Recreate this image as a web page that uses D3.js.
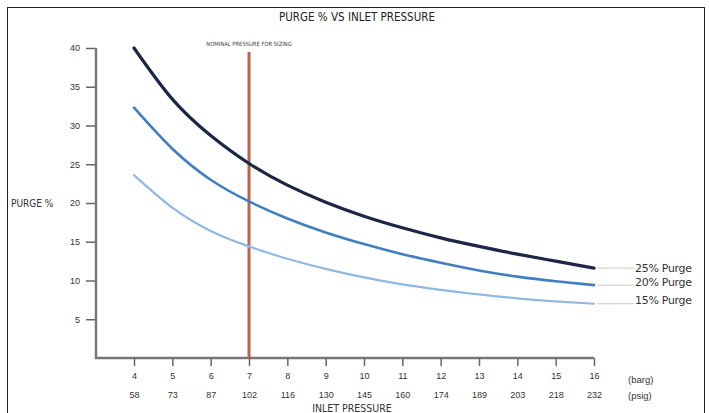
<!DOCTYPE html>
<html><head><meta charset="utf-8">
<script src="https://cdn.jsdelivr.net/npm/d3@7"></script>
<style>
html,body{margin:0;padding:0;background:#fff;}
svg{display:block;}
text{font-family:"Liberation Sans Narrow","DejaVu Sans Condensed","Liberation Sans",sans-serif;fill:#333;}
</style></head>
<body>
<svg id="chart" width="709" height="413"></svg>
<script>
const barg = [4,5,6,7,8,9,10,11,12,13,14,15,16];
const psig = ["58","73","87","102","116","130","145","160","174","189","203","218","232"];
const purge25 = [40,33.4,28.7,25.1,22.3,20.1,18.3,16.8,15.5,14.4,13.4,12.5,11.6];
const purge20 = [32.3,27.0,23.0,20.2,18.0,16.2,14.7,13.4,12.3,11.3,10.5,9.9,9.4];
const purge15 = [23.6,19.4,16.4,14.4,12.8,11.5,10.4,9.5,8.8,8.2,7.7,7.3,7.0];
const yTicks = [5,10,15,20,25,30,35,40];
const seriesNames = ["25% Purge","20% Purge","15% Purge"];
const seriesColors = ["#1c2747","#3f7fc2","#90b9e2"];
const nominalPressure = 7;

const tickFont = "'Liberation Sans','DejaVu Sans',sans-serif";
const svg = d3.select("#chart");
// outer frame
svg.append("rect").attr("x",7.5).attr("y",7.5).attr("width",697).attr("height",420)
  .attr("fill","none").attr("stroke","#222").attr("stroke-width",1);

const x = d3.scaleLinear().domain([4,16]).range([134,594]);
const y = d3.scaleLinear().domain([0,40]).range([358,48]);

svg.append("text").attr("x",357).attr("y",21).attr("text-anchor","middle")
  .style("font-size","11.5px").style("fill","#222").text("PURGE % VS INLET PRESSURE");

// Y axis
const yAxis = d3.axisLeft(y).tickValues(yTicks).tickSize(10).tickPadding(6);
const gy = svg.append("g").attr("transform","translate(96,0)").call(yAxis);
gy.select(".domain").remove();
gy.selectAll(".tick line").attr("stroke","#666").attr("stroke-width",1.5);
gy.selectAll(".tick text").style("font-size","9px").style("fill","#333").style("font-family",tickFont);
svg.append("line").attr("x1",96).attr("x2",96).attr("y1",y(40)).attr("y2",359)
  .attr("stroke","#777").attr("stroke-width",2.5);

// X axis
svg.append("line").attr("x1",95).attr("x2",x(16)).attr("y1",358).attr("y2",358)
  .attr("stroke","#777").attr("stroke-width",2.5);
const xAxis = d3.axisBottom(x).tickValues(barg).tickSize(8).tickPadding(7).tickFormat(d3.format("d"));
const gx = svg.append("g").attr("transform","translate(0,358)").call(xAxis);
gx.select(".domain").remove();
gx.selectAll(".tick line").attr("stroke","#666").attr("stroke-width",1.5);
gx.selectAll(".tick text").style("font-size","9px").style("fill","#333").style("font-family",tickFont);
gx.selectAll(".tick").append("text").attr("y",40).attr("fill","#333")
  .style("font-size","9px").style("font-family",tickFont)
  .text((d,i)=>psig[i]);
svg.append("text").attr("x",628).attr("y",383).style("font-size","9.5px").style("font-family",tickFont).text("(barg)");
svg.append("text").attr("x",628).attr("y",399).style("font-size","9.5px").style("font-family",tickFont).text("(psig)");
svg.append("text").attr("x",352).attr("y",412).attr("text-anchor","middle").style("font-size","10.5px").text("INLET PRESSURE");

svg.append("text").attr("x",11).attr("y",y(20)+4).style("font-size","10px").text("PURGE %");

// nominal line
svg.append("line").attr("x1",x(nominalPressure)).attr("x2",x(nominalPressure)).attr("y1",52).attr("y2",358)
  .attr("stroke","#b9644f").attr("stroke-width",3);
svg.append("text").attr("x",x(nominalPressure)).attr("y",46).attr("text-anchor","middle")
  .style("font-size","5.8px").style("fill","#444").text("NOMINAL PRESSURE FOR SIZING");

// series
const allSeries = [purge25,purge20,purge15];
const labelShift = [0,-3,-4];
const line = d3.line().x((d,i)=>x(barg[i])).y(d=>y(d)).curve(d3.curveNatural);
allSeries.forEach((s,k)=>{
  svg.append("path").datum(s).attr("d",line).attr("fill","none")
    .attr("stroke",seriesColors[k]).attr("stroke-width",k===0?3.2:k===1?2.6:2.2)
    .attr("stroke-linecap","round");
  const yEnd = y(s[s.length-1]);
  svg.append("line").attr("x1",x(16)+3).attr("x2",634).attr("y1",yEnd).attr("y2",yEnd)
    .attr("stroke","#bbb").attr("stroke-width",0.8);
  svg.append("text").attr("x",635).attr("y",yEnd+4+labelShift[k]).style("font-size","11px").style("fill","#333")
    .style("font-family","'DejaVu Sans',sans-serif").style("letter-spacing","-0.3px")
    .text(seriesNames[k]);
});
</script>
</body></html>
